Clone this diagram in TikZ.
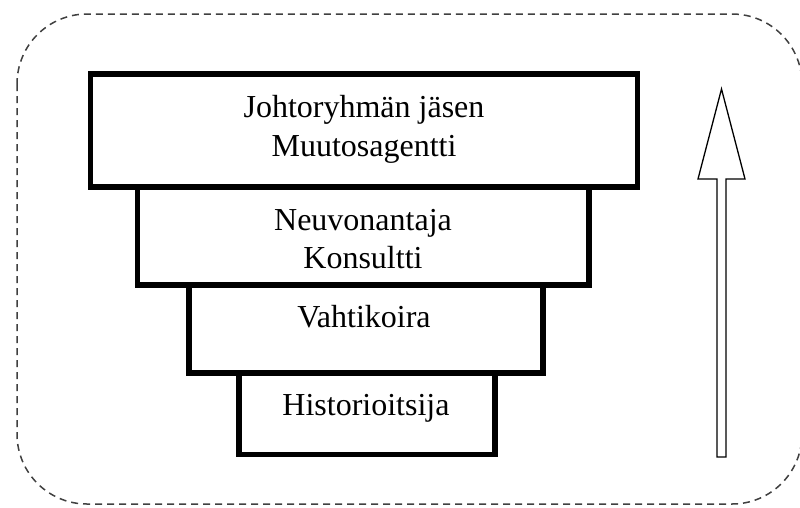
\documentclass[tikz,border=0pt]{standalone}
\usepackage{fontspec}
\setmainfont{Liberation Serif}
\begin{document}
\begin{tikzpicture}[x=1pt,y=-1pt,
  tier/.style={draw, line width=5.5pt, fill=white, inner sep=0pt, outer sep=0pt},
  lbl/.style={font=\fontsize{32}{39}\selectfont, anchor=base, inner sep=0pt},
  frame/.style={draw=black!75, line width=1.5pt, dash pattern=on 7pt off 5pt, rounded corners=70pt},
  uparrow/.style={draw, line width=1.3pt, fill=white, line join=miter}]
\useasboundingbox (0,0) rectangle (800,507);
\fill[white] (0,0) rectangle (800,507);
\draw[frame] (17,14) rectangle (802,504);
% tiers
\node[tier, minimum width=547pt, minimum height=113pt] (b1) at (364,130.5) {};
\node[tier, minimum width=451.5pt, minimum height=98pt] (b2) at (363.25,236) {};
\node[tier, minimum width=354pt, minimum height=88pt] (b3) at (366,329) {};
\node[tier, minimum width=256pt, minimum height=81.5pt] (b4) at (367,413.75) {};
% labels
\node[lbl] (t1a) at (364,117) {Johtoryhmän jäsen};
\node[lbl] (t1b) at (364,156) {Muutosagentti};
\node[lbl] (t2a) at (363,230) {Neuvonantaja};
\node[lbl] (t2b) at (363,268) {Konsultti};
\node[lbl] (t3) at (364,327) {Vahtikoira};
\node[lbl] (t4) at (366,415) {Historioitsija};
% arrow
\draw[uparrow] (717,457) -- (717,179) -- (698,179) -- (721.5,89) -- (745,179) -- (726,179) -- (726,457) -- cycle;
\end{tikzpicture}
\end{document}
